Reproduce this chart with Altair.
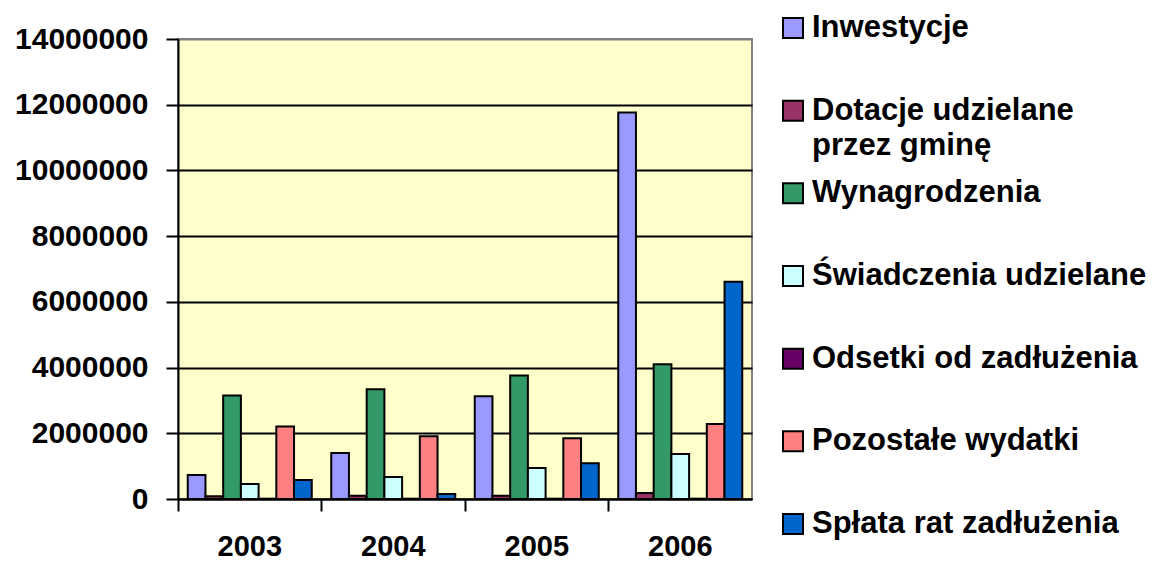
import altair as alt
import pandas as pd

years = ["2003", "2004", "2005", "2006"]
series = [
    "Inwestycje",
    "Dotacje udzielane przez gminę",
    "Wynagrodzenia",
    "Świadczenia udzielane",
    "Odsetki od zadłużenia",
    "Pozostałe wydatki",
    "Spłata rat zadłużenia",
]
inwestycje = [730000, 1400000, 3130000, 11760000]
dotacje = [80000, 100000, 100000, 180000]
wynagrodzenia = [3150000, 3340000, 3760000, 4100000]
swiadczenia = [455000, 670000, 940000, 1370000]
odsetki = [10000, 10000, 10000, 10000]
pozostale = [2210000, 1910000, 1850000, 2280000]
splata = [580000, 150000, 1090000, 6610000]
values = [inwestycje, dotacje, wynagrodzenia, swiadczenia, odsetki, pozostale, splata]

colors = ["#9999FF", "#993366", "#339966", "#CCFFFF", "#660066", "#FF8080", "#0066CC"]
legend_line1 = ["Inwestycje", "Dotacje udzielane", "Wynagrodzenia", "Świadczenia udzielane",
                "Odsetki od zadłużenia", "Pozostałe wydatki", "Spłata rat zadłużenia"]
legend_line2 = ["", "przez gminę", "", "", "", "", ""]
y_ticks = [0, 2000000, 4000000, 6000000, 8000000, 10000000, 12000000, 14000000]

rows = []
for s, vals in zip(series, values):
    for yr, v in zip(years, vals):
        rows.append({"year": yr, "series": s, "value": v})
df = pd.DataFrame(rows)
leg = pd.DataFrame({"series": series, "idx": list(range(len(series))),
                    "line1": legend_line1, "line2": legend_line2})

FONT = "Liberation Sans"
W, H = 574, 460
color_scale = alt.Scale(domain=series, range=colors)

bars = alt.Chart(df).mark_bar(stroke="black", strokeWidth=2).encode(
    x=alt.X("year:N", sort=years, scale=alt.Scale(paddingInner=0, paddingOuter=0),
            axis=alt.Axis(title=None, bandPosition=0, labelAngle=0,
                          tickSize=12, labelPadding=21, labelFontSize=29,
                          labelBaseline="top")),
    xOffset=alt.XOffset("series:N", sort=series,
                        scale=alt.Scale(paddingInner=0, paddingOuter=0.55)),
    y=alt.Y("value:Q", scale=alt.Scale(domain=[0, 14000000], nice=False),
            axis=alt.Axis(title=None, values=y_ticks, format="d", tickSize=12,
                          labelPadding=18, labelFontSize=30, grid=True,
                          gridColor=alt.condition("datum.value >= 14000000",
                                                  alt.value("#808080"), alt.value("black")))),
    color=alt.Color("series:N", scale=color_scale, legend=None),
)

y_leg = alt.Y("idx:O", scale=alt.Scale(type="point", padding=0, range=[-11, 485]), axis=None)

sym = alt.Chart(leg).mark_point(shape="square", size=400, filled=True, stroke="black",
                                strokeWidth=2, opacity=1).encode(
    x=alt.value(615), y=y_leg,
    color=alt.Color("series:N", scale=color_scale, legend=None),
)
t1 = alt.Chart(leg).mark_text(align="left", baseline="middle", fontSize=31,
                              fontWeight="bold", font=FONT, color="black").encode(
    x=alt.value(634), y=y_leg, text="line1:N")
t2 = alt.Chart(leg).mark_text(align="left", baseline="middle", fontSize=31, dy=35,
                              fontWeight="bold", font=FONT, color="black").encode(
    x=alt.value(634), y=y_leg, text="line2:N")

chart = alt.layer(bars, sym, t1, t2).resolve_scale(y="independent").properties(
    width=W, height=H,
    padding={"left": 6, "top": 4, "right": 5, "bottom": 5},
).configure_view(
    fill="#FFFFCC", stroke="#808080", strokeWidth=2
).configure_axis(
    domainColor="black", domainWidth=2, tickColor="black", tickWidth=2,
    gridWidth=2, labelFont=FONT, labelFontWeight="bold", labelColor="black",
)

chart.save("out.html", embed_options={"renderer": "svg", "actions": False})
